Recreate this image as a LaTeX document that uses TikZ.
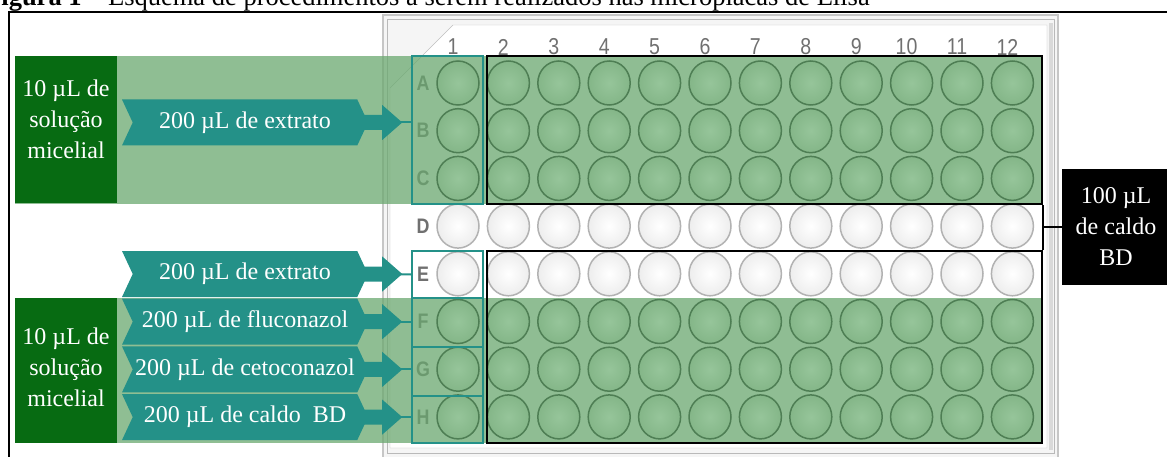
\documentclass[tikz,border=0pt]{standalone}
\usepackage{fontspec}
\setmainfont{Liberation Serif}
\newfontfamily\platefont[FakeStretch=0.85]{Liberation Sans}
\usepackage{tikz}
\usetikzlibrary{positioning,shapes.symbols}
\definecolor{bandgreen}{RGB}{106,168,111}
\definecolor{darkgreen}{RGB}{7,107,18}
\definecolor{tealbox}{RGB}{36,145,136}
\definecolor{wellline}{RGB}{78,126,84}
\definecolor{wellin}{RGB}{150,197,154}
\definecolor{wellout}{RGB}{132,182,136}
\definecolor{labelgray}{RGB}{112,112,112}

\begin{document}
\begin{tikzpicture}[
  x=1pt, y=-1pt,
  node distance=1.3pt,
  txt/.style={font=\fontsize{24}{31}\selectfont, text=white, align=center},
  dosebox/.style={fill=darkgreen, minimum width=102pt, inner sep=0pt},
  brothbox/.style={txt, fill=black, minimum width=108pt, minimum height=116pt, inner sep=0pt},
  chevron/.style={txt, shape=signal, signal from=west, signal to=east,
                  signal pointer angle=130, fill=tealbox, minimum width=246pt,
                  minimum height=46pt, inner sep=0pt},
  wellbox/.style={draw=tealbox, line width=2pt, minimum width=71pt, inner sep=0pt},
  groupbox/.style={draw, line width=2.2pt, minimum width=555pt, inner sep=0pt},
  band/.style={fill=bandgreen, fill opacity=0.75},
  whitewell/.style={draw=gray!60, line width=1.5pt, shading=radial,
                    inner color=white, outer color=gray!14},
  greenwell/.style={draw=wellline, line width=1.5pt, shading=radial,
                    inner color=wellin, outer color=wellout},
  collabel/.style={font=\platefont\fontsize{23}{23}\selectfont, text=labelgray, inner sep=0pt},
  rowlabel/.style={font=\platefont\bfseries\fontsize{21}{21}\selectfont, text=labelgray, inner sep=0pt},
  link/.style={tealbox, line width=2pt}
]
  \useasboundingbox (0,0) rectangle (1167,457);
  \clip (0,0) rectangle (1167,457);

  \node[anchor=base west, inner sep=0pt, font=\fontsize{26.5}{30}\selectfont] (title) at (-15,6)
    {\textbf{Figura 1} -- Esquema de procedimentos a serem realizados nas microplacas de Elisa};
  \draw[line width=1.5pt] (9,12) rectangle (1200,500);

  % plate
  \draw[gray!45, line width=1.2pt, fill=gray!8] (383,15) rectangle (1058,460);
  \draw[gray!55] (387,19) rectangle (1054,453);
  \fill[gray!30] (1049,23) rectangle (1053,450);
  \draw[gray!50, fill=white] (453,25) -- (1047,25) -- (1047,448) -- (390,448) -- (390,88) -- cycle;
  \foreach \c in {1,...,12}
    \node[collabel] (col\c) at ({453+(\c-1)*50.4},47) {\c};
  \foreach \r [count=\i] in {A,...,H}
    \node[rowlabel] (row\r) at (423,{83+(\i-1)*47.7}) {\r};

  \path[band] (15,56) rectangle (1042,204);
  \path[band] (15,298) rectangle (1042,443);

  \foreach \r/\st [count=\i] in {A/greenwell,B/greenwell,C/greenwell,D/whitewell,
                                 E/whitewell,F/greenwell,G/greenwell,H/greenwell}
    \foreach \c in {1,...,12}
      \path[\st] ({458+(\c-1)*50.4},{83+(\i-1)*47.7}) ellipse [x radius=21, y radius=22];

  \node[wellbox, minimum height=148pt] (boxABC) at (447.5,130) {};
  \node[wellbox, minimum height=47pt] (boxE) at (447.5,274.5) {};
  \node[wellbox, minimum height=49pt] (boxF) at (447.5,322.5) {};
  \node[wellbox, minimum height=49pt] (boxG) at (447.5,371.5) {};
  \node[wellbox, minimum height=47pt] (boxH) at (447.5,419.5) {};
  \node[groupbox, minimum height=148pt] (grpABC) at (764.5,130) {};
  \node[groupbox, minimum height=192pt] (grpEH) at (764.5,347) {};

  \node[dosebox, minimum height=147pt] (doseTop) at (66,129.5) {};
  \node[txt] (doseTopText) at ([yshift=10pt]doseTop.center) {10 µL de\\solução\\micelial};
  \node[dosebox, minimum height=145pt] (doseBottom) at (66,370.5) {};
  \node[txt] (doseBottomText) at ([yshift=3pt]doseBottom.center) {10 µL de\\solução\\micelial};

  \node[chevron] (chevTop) at (245,122.5) {200 µL de extrato};
  \node[chevron] (chevE) at (245,274) {200 µL de extrato};
  \node[chevron, below=of chevE] (chevF) {200 µL de fluconazol};
  \node[chevron, below=of chevF] (chevG) {200 µL de cetoconazol};
  \node[chevron, below=of chevG] (chevH) {200 µL de caldo \ BD};

  \draw[link] (chevTop.east) -- (chevTop.east -| boxABC.west);
  \draw[link] (chevE.east) -- (boxE.west);
  \draw[link] (chevF.east) -- (chevF.east -| boxF.west);
  \draw[link] (chevG.east) -- (chevG.east -| boxG.west);
  \draw[link] (chevH.east) -- (chevH.east -| boxH.west);
  % fat arrow heads
  \foreach \n in {chevTop,chevE,chevF,chevG,chevH}
    \fill[tealbox] (\n.east) ++(-4,-7.5) -- ++(18,0) -- ++(0,-10) -- ++(20,17.5)
      -- ++(-20,17.5) -- ++(0,-10) -- ++(-18,0) -- cycle;

  \node[brothbox] (broth) at (1116,227) {100 µL\\de caldo\\BD};
  \draw[line width=2.2pt] (grpABC.south east) -- (grpEH.north east);
  \draw[line width=1.5pt] (broth.west) -- (broth.west -| grpABC.east);
\end{tikzpicture}
\end{document}
